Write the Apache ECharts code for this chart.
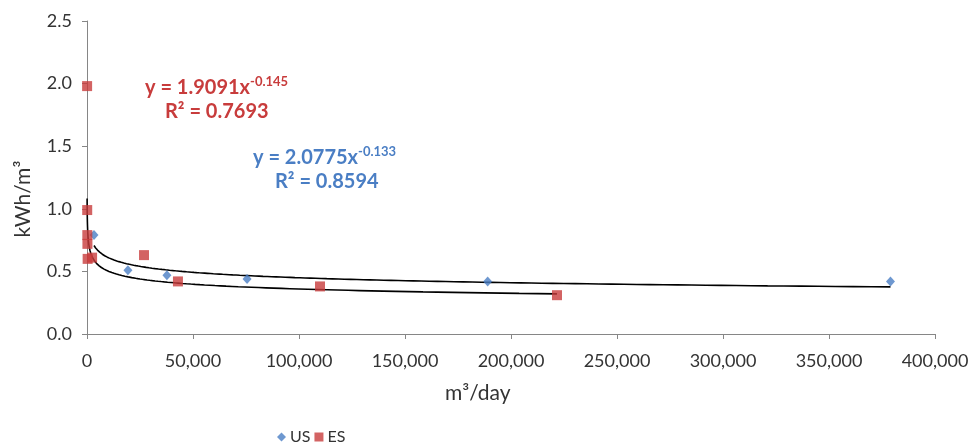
<!DOCTYPE html>
<html><head><meta charset="utf-8">
<script src="https://cdn.jsdelivr.net/npm/echarts@6/dist/echarts.min.js"></script>
<style>html,body{margin:0;padding:0;background:#fff}#c{width:976px;height:446px}</style>
</head><body><div id="c"></div>
<script>
// Data
const usX = [3300, 19300, 37700, 75500, 189000, 379000];
const usY = [0.79, 0.51, 0.47, 0.44, 0.42, 0.42];
const esX = [50, 100, 150, 200, 300, 2400, 26900, 42900, 109900, 221700];
const esY = [1.98, 0.99, 0.79, 0.72, 0.60, 0.61, 0.63, 0.42, 0.38, 0.31];
// Power trendline coefficients shown on the chart: y = a * x^b
const esFit = [1.9091, -0.145];
const usFit = [2.0775, -0.133];
const xTicks = [0, 50000, 100000, 150000, 200000, 250000, 300000, 350000, 400000];
const yTicks = [0, 0.5, 1.0, 1.5, 2.0, 2.5];

function trend(fit, xs) {
  const lo = Math.min(...xs), hi = Math.max(...xs);
  const out = [];
  const n = 200;
  for (let i = 0; i <= n; i++) {
    const x = Math.exp(Math.log(lo) + (Math.log(hi) - Math.log(lo)) * i / n);
    out.push([x, fit[0] * Math.pow(x, fit[1])]);
  }
  return out;
}

const RED = '#C83C3C', BLUE = '#4A7EC4', FONT = 'Lato';
function eqText(main, sup, left, top, color) {
  return {type: 'text', left: left, top: top, style: {
    text: '{m|' + main + '}{s|' + sup + '}',
    fontFamily: FONT, fill: color,
    rich: {
      m: {fontSize: 20, fontWeight: 'bold', fill: color, lineHeight: 26, fontFamily: FONT},
      s: {fontSize: 13, fontWeight: 'bold', fill: color, lineHeight: 26, verticalAlign: 'top', fontFamily: FONT}
    }
  }};
}
function r2Text(t, left, top, color) {
  return {type: 'text', left: left, top: top, style: {text: t, fontSize: 20, fontWeight: 'bold', fill: color, fontFamily: FONT}};
}

const chart = echarts.init(document.getElementById('c'), null, {renderer: 'canvas'});
chart.setOption({
  animation: false,
  textStyle: {fontFamily: FONT},
  grid: {left: 87, right: 41, top: 21, bottom: 112, containLabel: false},
  xAxis: {
    type: 'value', min: xTicks[0], max: xTicks[xTicks.length - 1], interval: 50000,
    splitLine: {show: false},
    axisLine: {lineStyle: {color: '#868686', width: 1}},
    axisTick: {show: true, length: 5, lineStyle: {color: '#868686'}},
    axisLabel: {fontSize: 18, color: '#333', margin: 18, fontFamily: FONT,
      formatter: v => v.toLocaleString('en-US')}
  },
  yAxis: {
    type: 'value', min: yTicks[0], max: yTicks[yTicks.length - 1], interval: 0.5,
    splitLine: {show: false},
    axisLine: {show: true, lineStyle: {color: '#868686', width: 1}},
    axisTick: {show: true, length: 5, lineStyle: {color: '#868686'}},
    axisLabel: {fontSize: 18, color: '#333', margin: 15, fontFamily: FONT,
      formatter: v => v.toFixed(1)}
  },
  legend: {
    left: 272, top: 424, itemGap: 4, itemWidth: 9, itemHeight: 9,
    textStyle: {fontSize: 16, color: '#333', fontFamily: FONT, padding: [0, 0, 0, -1]},
    data: [{name: 'US', icon: 'diamond'}, {name: 'ES', icon: 'rect'}]
  },
  series: [
    {name: 'US trend', type: 'line', data: trend(usFit, usX), showSymbol: false,
      lineStyle: {color: '#000', width: 1.6}, itemStyle: {color: '#000'}, z: 2},
    {name: 'ES trend', type: 'line', data: trend(esFit, esX), showSymbol: false,
      lineStyle: {color: '#000', width: 1.6}, itemStyle: {color: '#000'}, z: 2},
    {name: 'US', type: 'scatter', symbol: 'diamond', symbolSize: [9, 10],
      itemStyle: {color: BLUE}, data: usX.map((x, i) => [x, usY[i]]), z: 3},
    {name: 'ES', type: 'scatter', symbol: 'rect', symbolSize: 10,
      itemStyle: {color: RED}, data: esX.map((x, i) => [x, esY[i]]), z: 3}
  ],
  graphic: [
    {type: 'text', x: 23, y: 199, rotation: Math.PI / 2,
      style: {text: 'kWh/m³', fontSize: 21, fill: '#333', fontFamily: FONT, align: 'center', verticalAlign: 'middle'}},
    {type: 'text', left: 445, top: 383, style: {text: 'm³/day', fontSize: 21, fill: '#333', fontFamily: FONT}},
    eqText('y = 1.9091x', '-0.145', 145, 75, RED),
    r2Text('R² = 0.7693', 165, 102, RED),
    eqText('y = 2.0775x', '-0.133', 253, 145, BLUE),
    r2Text('R² = 0.8594', 275, 172, BLUE)
  ]
});
</script></body></html>
